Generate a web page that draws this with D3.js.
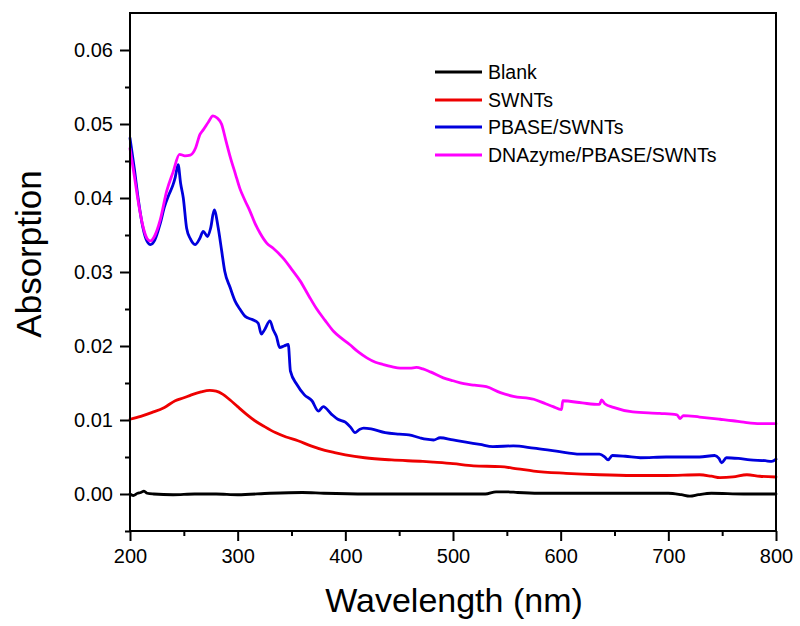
<!DOCTYPE html>
<html>
<head>
<meta charset="utf-8">
<script src="https://cdn.jsdelivr.net/npm/d3@7"></script>
<style>
  html, body { margin: 0; padding: 0; background: #fff; }
  svg { display: block; }
  text { font-family: Arial, "Liberation Sans", sans-serif; fill: #000; }
</style>
</head>
<body>
<svg id="chart" width="800" height="626"></svg>
<script>
// ---- data (wavelength nm, absorption) ----
const seriesNames = ["Blank", "SWNTs", "PBASE/SWNTs", "DNAzyme/PBASE/SWNTs"];
const seriesColors = ["#000000", "#ee0000", "#0000dd", "#ff00ff"];

const blankData = [
  [200,0.0000],[203,-0.0002],[207,0.0001],[210,0.0002],[213,0.0004],[216,0.0001],[222,0.0000],[240,-0.0001],
  [260,0.0000],[280,0.0000],[300,-0.0001],[330,0.0001],[360,0.0002],[380,0.0001],[420,0.0000],[460,0.0000],
  [500,0.0000],[530,0.0000],[540,0.0003],[550,0.0003],[560,0.0002],[580,0.0001],[620,0.0001],[660,0.0001],
  [700,0.0001],[712,-0.0001],[720,-0.0003],[728,-0.0001],[740,0.0001],[770,0.0000],[800,0.0000]
];
const swntsData = [
  [200,0.0101],[210,0.0105],[220,0.0110],[232,0.0117],[242,0.0126],[250,0.0130],[257,0.0134],[266,0.0138],
  [274,0.0140],[280,0.0139],[286,0.0135],[293,0.0127],[300,0.0118],[308,0.0108],[316,0.0099],[325,0.0091],
  [335,0.0083],[345,0.0077],[356,0.0072],[368,0.0065],[381,0.0059],[390,0.0056],[400,0.0053],[418,0.0049],
  [443,0.0046],[472,0.0044],[482,0.0043],[500,0.0041],[519,0.0038],[544,0.0037],[560,0.0034],[575,0.0031],
  [605,0.0028],[636,0.0026],[667,0.0025],[698,0.0025],[729,0.0026],[740,0.0024],[748,0.0022],[760,0.0023],
  [773,0.0026],[785,0.0024],[800,0.0023]
];
const pbaseData = [
  [200,0.0481],[204,0.0440],[208,0.0395],[212,0.0360],[216,0.0341],[219,0.0337],[223,0.0343],[228,0.0365],
  [232,0.0388],[236,0.0404],[240,0.0418],[242,0.0428],[244.7,0.0445],[247,0.0420],[249.5,0.0400],[252.6,0.0359],
  [256,0.0345],[260.4,0.0337],[265,0.0346],[268,0.0355],[272,0.0348],[275,0.0360],[278.2,0.0384],[282,0.0359],
  [285,0.0330],[288,0.0301],[293,0.0279],[297.5,0.0261],[302,0.0250],[307,0.0240],[313,0.0236],[319,0.0231],
  [322,0.0216],[325,0.0222],[330,0.0234],[333,0.0222],[336,0.0213],[339,0.0198],[343,0.0200],[347,0.0202],
  [349,0.0166],[355,0.0148],[362,0.0134],[369,0.0126],[375,0.0112],[379.5,0.0118],[387,0.0108],[393,0.0101],
  [400,0.0097],[405,0.0090],[409,0.0083],[413,0.0087],[417,0.0089],[424,0.0088],[437,0.0083],[450,0.0081],
  [459,0.0080],[469,0.0076],[475,0.0074],[482,0.0073],[488,0.0076],[500,0.0073],[512,0.0070],[525,0.0067],
  [537,0.0064],[556,0.0065],[575,0.0062],[596,0.0058],[618,0.0054],[636,0.0054],[641,0.0050],[644,0.0046],
  [648,0.0052],[660,0.0051],[674,0.0049],[698,0.0050],[729,0.0050],[743,0.0052],[747,0.0048],[749.5,0.0042],
  [754,0.0049],[765,0.0048],[776,0.0046],[790,0.0045],[796,0.0044],[800,0.0047]
];
const dnazymeData = [
  [200,0.0467],[204,0.0430],[208,0.0392],[212,0.0362],[216,0.0345],[219,0.0342],[223,0.0349],[228,0.0370],
  [234,0.0409],[240,0.0435],[246,0.0459],[251,0.0457],[256,0.0458],[261,0.0468],[265,0.0486],[268,0.0492],
  [273,0.0503],[277,0.0511],[281,0.0508],[285,0.0500],[289,0.0478],[293,0.0456],[298,0.0432],[302,0.0413],
  [307,0.0396],[311.5,0.0382],[316,0.0366],[321,0.0352],[327,0.0339],[333,0.0332],[342,0.0319],[350,0.0304],
  [358,0.0288],[366,0.0268],[373,0.0251],[381,0.0235],[389,0.0220],[396,0.0211],[404,0.0202],[412,0.0192],
  [420,0.0184],[428,0.0178],[435,0.0175],[443,0.0172],[451,0.0170],[460,0.0170],[466,0.0171],[472,0.0169],
  [479,0.0165],[491,0.0157],[500,0.0153],[510,0.0149],[520,0.0147],[531,0.0145],[544,0.0137],[556,0.0132],
  [575,0.0128],[586,0.0122],[593,0.0118],[600.8,0.0114],[602,0.0126],[620,0.0123],[636,0.0121],[638,0.0127],
  [641,0.0122],[649,0.0117],[667,0.0111],[692,0.0109],[708,0.0107],[711,0.0102],[714,0.0106],[729,0.0104],
  [748,0.0101],[760,0.0099],[770,0.0097],[785,0.0095],[800,0.0095]
];
const allSeries = [blankData, swntsData, pbaseData, dnazymeData];

const xTickValues = [200, 300, 400, 500, 600, 700, 800];
const xMinorTicks = [250, 350, 450, 550, 650, 750];
const yTickValues = [0.00, 0.01, 0.02, 0.03, 0.04, 0.05, 0.06];
const yMinorTicks = [-0.005, 0.005, 0.015, 0.025, 0.035, 0.045, 0.055];
const xTitle = "Wavelength (nm)";
const yTitle = "Absorption";

// ---- layout ----
const svg = d3.select("#chart");
const padL = 130, padR = 776, padT = 13, padB = 531;

const x = d3.scaleLinear().domain([200, 800]).range([padL, padR]);
const y = d3.scaleLinear().domain([-0.005, 0.065]).range([padB, padT]);

// curves
const line = d3.line().x(d => x(d[0])).y(d => y(d[1])).curve(d3.curveMonotoneX);
const plot = svg.append("g");
allSeries.forEach((s, i) => {
  plot.append("path")
    .datum(s)
    .attr("fill", "none")
    .attr("stroke", seriesColors[i])
    .attr("stroke-width", 2.8)
    .attr("stroke-linejoin", "round")
    .attr("stroke-linecap", "round")
    .attr("d", line);
});

// frame
svg.append("rect")
  .attr("x", padL).attr("y", padT)
  .attr("width", padR - padL).attr("height", padB - padT)
  .attr("fill", "none").attr("stroke", "#000").attr("stroke-width", 2);

// x axis
const xAxis = d3.axisBottom(x).tickValues(xTickValues).tickFormat(d3.format("d"))
  .tickSize(10).tickPadding(8);
const gx = svg.append("g").attr("transform", `translate(0,${padB})`).call(xAxis);
gx.select(".domain").remove();
gx.selectAll(".tick line").attr("stroke-width", 2);
gx.selectAll(".tick text").style("font-size", "20px").attr("font-family", "Arial, 'Liberation Sans', sans-serif");
const xMinor = d3.axisBottom(x).tickValues(xMinorTicks).tickFormat("").tickSize(5);
const gxm = svg.append("g").attr("transform", `translate(0,${padB})`).call(xMinor);
gxm.select(".domain").remove();
gxm.selectAll(".tick line").attr("stroke-width", 2);

// y axis
const yAxis = d3.axisLeft(y).tickValues(yTickValues).tickFormat(d3.format(".2f"))
  .tickSize(10).tickPadding(7);
const gy = svg.append("g").attr("transform", `translate(${padL},0)`).call(yAxis);
gy.select(".domain").remove();
gy.selectAll(".tick line").attr("stroke-width", 2);
gy.selectAll(".tick text").style("font-size", "20px").attr("font-family", "Arial, 'Liberation Sans', sans-serif");
const yMinor = d3.axisLeft(y).tickValues(yMinorTicks).tickFormat("").tickSize(5);
const gym = svg.append("g").attr("transform", `translate(${padL},0)`).call(yMinor);
gym.select(".domain").remove();
gym.selectAll(".tick line").attr("stroke-width", 2);

// titles
svg.append("text")
  .attr("x", (padL + padR) / 2 + 1).attr("y", 612)
  .attr("text-anchor", "middle")
  .style("font-size", "34px")
  .text(xTitle);
svg.append("text")
  .attr("transform", `translate(41,254) rotate(-90)`)
  .attr("text-anchor", "middle")
  .style("font-size", "35px")
  .text(yTitle);

// legend
const legend = svg.append("g");
const legendRows = [72, 100, 127, 155];
seriesNames.forEach((name, i) => {
  const ly = legendRows[i];
  legend.append("line")
    .attr("x1", 435).attr("x2", 482).attr("y1", ly).attr("y2", ly)
    .attr("stroke", seriesColors[i]).attr("stroke-width", 2.8);
  legend.append("text")
    .attr("x", 488).attr("y", ly)
    .attr("dy", "0.35em")
    .style("font-size", "19.5px")
    .text(name);
});
</script>
</body>
</html>
